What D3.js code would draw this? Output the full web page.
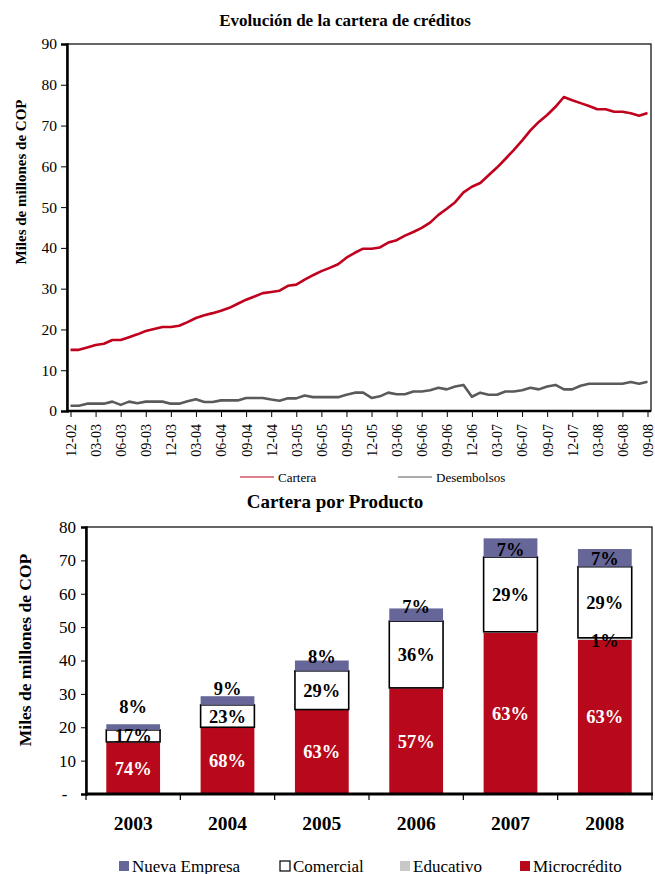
<!DOCTYPE html>
<html>
<head>
<meta charset="utf-8">
<script src="https://cdn.jsdelivr.net/npm/d3@7"></script>
<style>
  html, body { margin: 0; padding: 0; background: #fff; }
  svg { display: block; }
  svg text { font-family: "Liberation Serif", "Times New Roman", serif !important; }
</style>
</head>
<body>
<svg id="chart" width="655" height="874"></svg>
<script>
// ---- Monthly portfolio series (miles de millones de COP), Dec-2002 .. Sep-2008 ----
const cartera = [
  15.0, 15.0, 15.6, 16.2, 16.5, 17.4, 17.4, 18.1, 18.8, 19.6, 20.1, 20.6,
  20.6, 20.9, 21.8, 22.8, 23.5, 24.0, 24.6, 25.3, 26.3, 27.3, 28.1, 28.9,
  29.2, 29.5, 30.7, 31.0, 32.2, 33.3, 34.3, 35.1, 36.0, 37.6, 38.8, 39.8,
  39.8, 40.1, 41.3, 41.9, 43.0, 43.9, 44.9, 46.2, 48.1, 49.6, 51.2, 53.6,
  55.0, 55.9, 57.8, 59.7, 61.8, 64.0, 66.3, 68.8, 70.9, 72.6, 74.6, 77.0,
  76.2, 75.5, 74.8, 74.0, 74.0, 73.4, 73.4, 73.0, 72.4, 73.1
];
const desembolsos = [
  1.3, 1.3, 1.8, 1.8, 1.8, 2.3, 1.5, 2.3, 1.9, 2.3, 2.3, 2.3,
  1.8, 1.8, 2.4, 2.9, 2.2, 2.2, 2.6, 2.6, 2.6, 3.2, 3.2, 3.2,
  2.8, 2.5, 3.1, 3.1, 3.8, 3.4, 3.4, 3.4, 3.4, 4.0, 4.5, 4.5,
  3.2, 3.6, 4.5, 4.1, 4.1, 4.8, 4.8, 5.1, 5.7, 5.3, 6.0, 6.4,
  3.5, 4.5, 4.0, 4.0, 4.8, 4.8, 5.1, 5.7, 5.3, 6.0, 6.4, 5.3,
  5.3, 6.2, 6.7, 6.7, 6.7, 6.7, 6.7, 7.1, 6.7, 7.2
];
const quarterLabels = [
  "12-02", "03-03", "06-03", "09-03", "12-03", "03-04", "06-04", "09-04",
  "12-04", "03-05", "06-05", "09-05", "12-05", "03-06", "06-06", "09-06",
  "12-06", "03-07", "06-07", "09-07", "12-07", "03-08", "06-08", "09-08"
];
const lineYTicks = [0, 10, 20, 30, 40, 50, 60, 70, 80, 90];

// ---- Year-end portfolio by product (miles de millones de COP) ----
const years = ["2003", "2004", "2005", "2006", "2007", "2008"];
const microcredito = [15.5, 19.9, 25.2, 31.7, 48.3, 46.2];
const educativo    = [0.1, 0.1, 0.1, 0.1, 0.3, 0.6];
const comercial    = [3.6, 6.7, 11.6, 20.0, 22.4, 21.3];
const nuevaEmpresa = [1.7, 2.6, 3.1, 3.8, 5.6, 5.3];
const barYTicks = [0, 10, 20, 30, 40, 50, 60, 70, 80];

const svg = d3.select("#chart");

// =================== Line chart ===================
const L = { left: 67, right: 651, top: 44, bottom: 411 };
const xL = d3.scalePoint().domain(d3.range(cartera.length)).range([70.5, 647.5]);
const yL = d3.scaleLinear().domain([0, 90]).range([L.bottom, L.top]);

svg.append("text")
  .attr("x", 345).attr("y", 26)
  .attr("text-anchor", "middle")
  .attr("font-weight", "bold").attr("font-size", 17)
  .text("Evolución de la cartera de créditos");

// frame
svg.append("rect")
  .attr("x", L.left).attr("y", L.top)
  .attr("width", L.right - L.left).attr("height", L.bottom - L.top)
  .attr("fill", "none").attr("stroke", "#000").attr("stroke-width", 1.2);

const yAxisL = svg.append("g")
  .attr("transform", `translate(${L.left},0)`)
  .call(d3.axisLeft(yL).tickValues(lineYTicks).tickSize(6).tickPadding(4));
yAxisL.select(".domain").attr("stroke-width", 2.5);
yAxisL.selectAll("text").attr("font-size", 15.5).attr("fill", "#000");

const xAxisL = svg.append("g")
  .attr("transform", `translate(0,${L.bottom})`)
  .call(d3.axisBottom(xL)
    .tickValues(d3.range(0, cartera.length, 3))
    .tickFormat((d, i) => quarterLabels[i])
    .tickSize(6));
xAxisL.select(".domain").attr("d", `M${L.left},0H${L.right}`).attr("stroke-width", 2.5);
xAxisL.selectAll("text")
  .attr("font-size", 14).attr("fill", "#000")
  .attr("text-anchor", "end")
  .attr("transform", "translate(0,13) rotate(-90)")
  .attr("x", 0).attr("y", 0).attr("dy", "0.35em");

svg.append("text")
  .attr("transform", "translate(26,182) rotate(-90)")
  .attr("text-anchor", "middle")
  .attr("font-weight", "bold").attr("font-size", 15)
  .text("Miles de millones de COP");

const line = d3.line().x((d, i) => xL(i)).y(d => yL(d));
svg.append("path").datum(desembolsos)
  .attr("d", line).attr("fill", "none")
  .attr("stroke", "#5a5a5a").attr("stroke-width", 2.6).attr("stroke-linejoin", "round");
svg.append("path").datum(cartera)
  .attr("d", line).attr("fill", "none")
  .attr("stroke", "#c0001d").attr("stroke-width", 2.6).attr("stroke-linejoin", "round");

// legend
const lineLegend = [
  { name: "Cartera", color: "#c0001d", x: 240 },
  { name: "Desembolsos", color: "#5a5a5a", x: 398 }
];
lineLegend.forEach(l => {
  svg.append("line")
    .attr("x1", l.x).attr("x2", l.x + 34).attr("y1", 477).attr("y2", 477)
    .attr("stroke", l.color).attr("stroke-width", 1.2);
  svg.append("text")
    .attr("x", l.x + 38).attr("y", 481.5)
    .attr("font-size", 13)
    .text(l.name);
});

// =================== Stacked bar chart ===================
const B = { left: 86, right: 652, top: 527, bottom: 794 };
const keys = ["microcredito", "educativo", "comercial", "nuevaEmpresa"];
const colors = {
  microcredito: "#b8081b",
  educativo: "#c8c8c8",
  comercial: "#ffffff",
  nuevaEmpresa: "#666699"
};
const rows = years.map((y, i) => ({
  year: y,
  microcredito: microcredito[i],
  educativo: educativo[i],
  comercial: comercial[i],
  nuevaEmpresa: nuevaEmpresa[i]
}));
const totals = rows.map(r => keys.reduce((s, k) => s + r[k], 0));
const series = d3.stack().keys(keys)(rows);

const xB = d3.scaleBand().domain(years).range([B.left, B.right])
  .paddingInner(0.43).paddingOuter(0.215);
const yB = d3.scaleLinear().domain([0, 80]).range([B.bottom, B.top]);

svg.append("text")
  .attr("x", 335).attr("y", 508)
  .attr("text-anchor", "middle")
  .attr("font-weight", "bold").attr("font-size", 19)
  .text("Cartera por Producto");

svg.append("rect")
  .attr("x", B.left).attr("y", B.top)
  .attr("width", B.right - B.left).attr("height", B.bottom - B.top)
  .attr("fill", "none").attr("stroke", "#000").attr("stroke-width", 1.2);

series.forEach(s => {
  svg.append("g").selectAll("rect").data(s).join("rect")
    .attr("x", d => xB(d.data.year))
    .attr("width", xB.bandwidth())
    .attr("y", d => yB(d[1]))
    .attr("height", d => yB(d[0]) - yB(d[1]))
    .attr("fill", colors[s.key])
    .attr("stroke", s.key === "comercial" ? "#000" : "none")
    .attr("stroke-width", s.key === "comercial" ? 1.6 : 0);
});

const yAxisB = svg.append("g")
  .attr("transform", `translate(${B.left},0)`)
  .call(d3.axisLeft(yB).tickValues(barYTicks).tickSize(5).tickPadding(5)
    .tickFormat(d => d === 0 ? "-  " : d));
yAxisB.select(".domain").attr("stroke-width", 2.5);
yAxisB.selectAll("text").attr("font-size", 17).attr("fill", "#000").style("white-space", "pre");

const xAxisB = svg.append("g").attr("transform", `translate(0,${B.bottom})`);
xAxisB.append("line")
  .attr("x1", B.left).attr("x2", B.right + 1)
  .attr("stroke", "#000").attr("stroke-width", 2.8);
const step = xB.step();
const boundaries = d3.range(years.length + 1).map(i => B.left + i * step);
xAxisB.selectAll("line.tick").data(boundaries).join("line")
  .attr("class", "tick")
  .attr("x1", d => d).attr("x2", d => d).attr("y1", 0).attr("y2", 6)
  .attr("stroke", "#000").attr("stroke-width", 1.2);
xAxisB.selectAll("text").data(years).join("text")
  .attr("x", d => xB(d) + xB.bandwidth() / 2)
  .attr("y", 36)
  .attr("text-anchor", "middle")
  .attr("font-weight", "bold").attr("font-size", 19.5)
  .text(d => d);

svg.append("text")
  .attr("transform", "translate(31,650) rotate(-90)")
  .attr("text-anchor", "middle")
  .attr("font-weight", "bold").attr("font-size", 17.5)
  .text("Miles de millones de COP");

// percentage labels, computed from each segment's share of the year total
const pct = d3.format(".0%");
const nuevaNudge = [-21, -12, -9, -8, 2, 1];
series.forEach(s => {
  s.forEach((d, i) => {
    const share = (d[1] - d[0]) / totals[i];
    if (Math.round(share * 100) < 1) return;
    let cy = (yB(d[0]) + yB(d[1])) / 2;
    if (s.key === "nuevaEmpresa") cy += nuevaNudge[i];
    if (s.key === "educativo") cy += 2;
    svg.append("text")
      .attr("x", xB(d.data.year) + xB.bandwidth() / 2)
      .attr("y", cy)
      .attr("dy", "0.35em")
      .attr("text-anchor", "middle")
      .attr("font-weight", "bold").attr("font-size", 18.5)
      .attr("fill", s.key === "microcredito" ? "#fff" : "#000")
      .text(pct(share));
  });
});

// legend
const barLegend = [
  { key: "nuevaEmpresa", name: "Nueva Empresa", x: 119 },
  { key: "comercial", name: "Comercial", x: 280 },
  { key: "educativo", name: "Educativo", x: 400 },
  { key: "microcredito", name: "Microcrédito", x: 520 }
];
barLegend.forEach(l => {
  svg.append("rect")
    .attr("x", l.x).attr("y", 861).attr("width", 10).attr("height", 10)
    .attr("fill", colors[l.key])
    .attr("stroke", l.key === "comercial" ? "#000" : "none")
    .attr("stroke-width", 1.2);
  svg.append("text")
    .attr("x", l.x + 13).attr("y", 871.5)
    .attr("font-size", 17)
    .text(l.name);
});
</script>
</body>
</html>
